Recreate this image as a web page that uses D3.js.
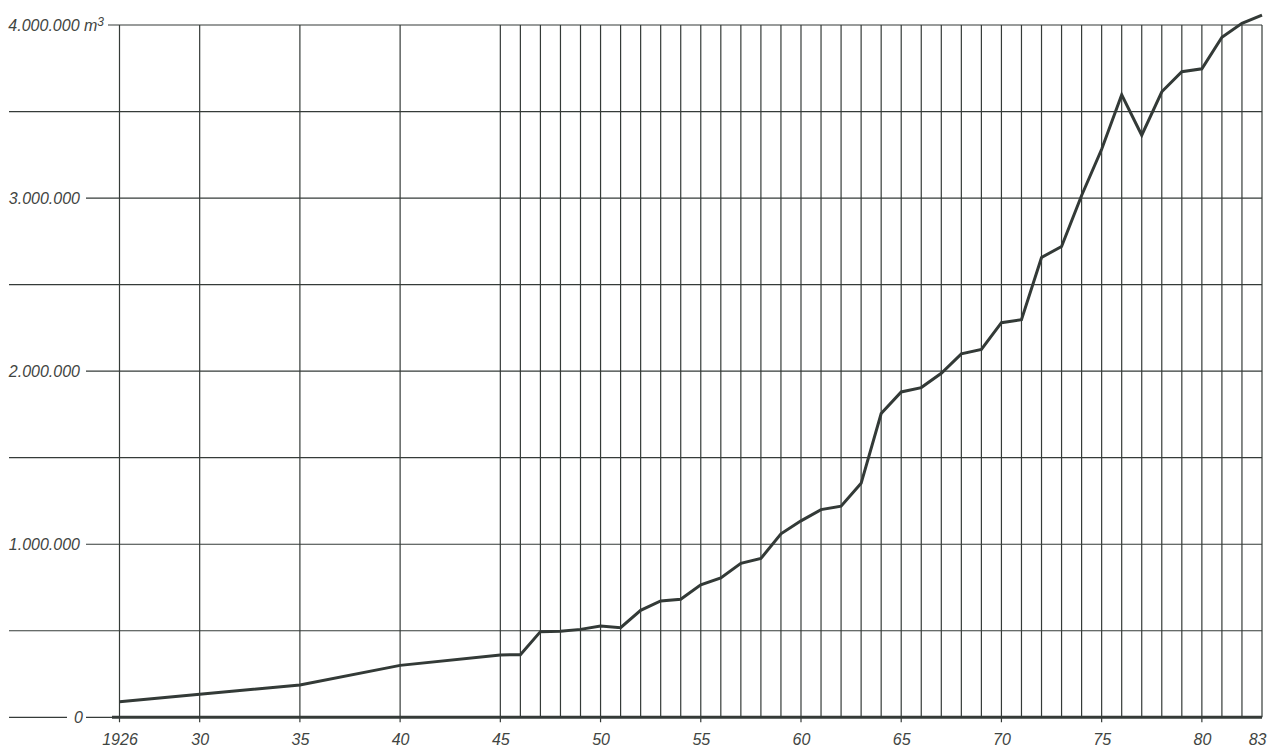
<!DOCTYPE html>
<html>
<head>
<meta charset="utf-8">
<script src="https://cdn.jsdelivr.net/npm/d3@7"></script>
<style>
  body { margin: 0; background: #fff; }
  svg { display: block; }
  text { font-family: "Liberation Sans", Arial, sans-serif; font-style: italic; fill: #3f4542; }
</style>
</head>
<body>
<script>
// Wood volume 1926 - 1983, m3
var years = [1926, 1930, 1935, 1940, 1945, 1946, 1947, 1948, 1949, 1950,
    1951, 1952, 1953, 1954, 1955, 1956, 1957, 1958, 1959, 1960,
    1961, 1962, 1963, 1964, 1965, 1966, 1967, 1968, 1969, 1970,
    1971, 1972, 1973, 1974, 1975, 1976, 1977, 1978, 1979, 1980,
    1981, 1982, 1983];

var volumes = [90000, 133000, 187000, 300000, 360000, 362000, 495000, 497000, 508000, 527000,
    518000, 618000, 672000, 682000, 765000, 805000, 890000, 918000, 1060000, 1135000,
    1200000, 1220000, 1352000, 1755000, 1880000, 1905000, 1988000, 2100000, 2125000, 2280000,
    2297000, 2657000, 2720000, 3015000, 3282000, 3597000, 3363000, 3614000, 3730000, 3747000,
    3929000, 4010000, 4057000];

// vertical grid: years drawn as lines
var gridYears = years.slice();

// labelled years on the x axis
var labelYears = [1926, 1930, 1935, 1940, 1945, 1950, 1955, 1960, 1965, 1970, 1975, 1980, 1983];
var labelText = ["1926", "30", "35", "40", "45", "50", "55", "60", "65", "70", "75", "80", "83"];

// horizontal grid every 500.000
var gridValues = [0, 500000, 1000000, 1500000, 2000000, 2500000, 3000000, 3500000, 4000000];
var yLabels = ["0", "1.000.000", "2.000.000", "3.000.000", "4.000.000"];
var yLabelValues = [0, 1000000, 2000000, 3000000, 4000000];

var width = 1267,
    height = 756;

var svg = d3.select(document.body).append("svg")
    .attr("width", width)
    .attr("height", height);

var x = d3.scaleLinear().domain([1926, 1983]).range([119.5, 1262]);
var y = d3.scaleLinear().domain([0, 4000000]).range([717.3, 25]);

var ink = "#353b38";

// horizontal grid lines
svg.append("g")
    .selectAll("line")
    .data(gridValues)
    .join("line")
    .attr("x1", (d) => d == 4000000 ? 108 : (yLabelValues.indexOf(d) >= 0 ? 86 : 9))
    .attr("x2", x(1983))
    .attr("y1", (d) => y(d))
    .attr("y2", (d) => y(d))
    .attr("stroke", ink)
    .attr("stroke-width", 1.2);

// left stub of the zero line
svg.append("line")
    .attr("x1", 9).attr("x2", 67)
    .attr("y1", y(0)).attr("y2", y(0))
    .attr("stroke", ink)
    .attr("stroke-width", 1.2);

// vertical grid lines, with a small tick below labelled years
svg.append("g")
    .selectAll("line")
    .data(gridYears)
    .join("line")
    .attr("x1", (d) => x(d))
    .attr("x2", (d) => x(d))
    .attr("y1", y(4000000))
    .attr("y2", (d) => labelYears.indexOf(d) >= 0 && d != 1983 ? y(0) + 5 : y(0))
    .attr("stroke", ink)
    .attr("stroke-width", 1.2);

// thick base line
svg.append("line")
    .attr("x1", 112).attr("x2", x(1983))
    .attr("y1", y(0)).attr("y2", y(0))
    .attr("stroke", ink)
    .attr("stroke-width", 3);

// x labels
var xAxis = d3.axisBottom(x)
    .tickValues(labelYears)
    .tickFormat((d, i) => labelText[i])
    .tickSize(0)
    .tickPadding(16);

svg.append("g")
    .attr("transform", "translate(0," + y(0) + ")")
    .call(xAxis)
    .call((g) => g.select(".domain").remove())
    .call((g) => g.selectAll("text")
        .attr("font-family", null)
        .attr("font-size", 16)
        .attr("fill", null))
    .call((g) => g.selectAll("text")
        .filter((d) => d == 1983)
        .attr("text-anchor", "end")
        .attr("dx", 4));

// y labels
var yText = svg.append("g")
    .attr("font-size", 16)
    .attr("text-anchor", "end")
    .selectAll("text")
    .data(yLabelValues)
    .join("text")
    .attr("x", (d) => d == 0 ? 83 : (d == 4000000 ? 104 : 80))
    .attr("y", (d) => y(d))
    .attr("dy", "0.36em");

yText.filter((d) => d != 4000000)
    .text((d) => yLabels[yLabelValues.indexOf(d)]);

yText.filter((d) => d == 4000000)
    .call((t) => t.append("tspan").text(yLabels[4] + " m"))
    .call((t) => t.append("tspan")
        .attr("dy", "-0.4em")
        .attr("font-size", 12)
        .text("3"));

// the volume line
var line = d3.line()
    .x((d, i) => x(years[i]))
    .y((d) => y(d));

svg.append("path")
    .datum(volumes)
    .attr("d", line)
    .attr("fill", "none")
    .attr("stroke", "#333a37")
    .attr("stroke-width", 3)
    .attr("stroke-linejoin", "miter");
</script>
</body>
</html>
